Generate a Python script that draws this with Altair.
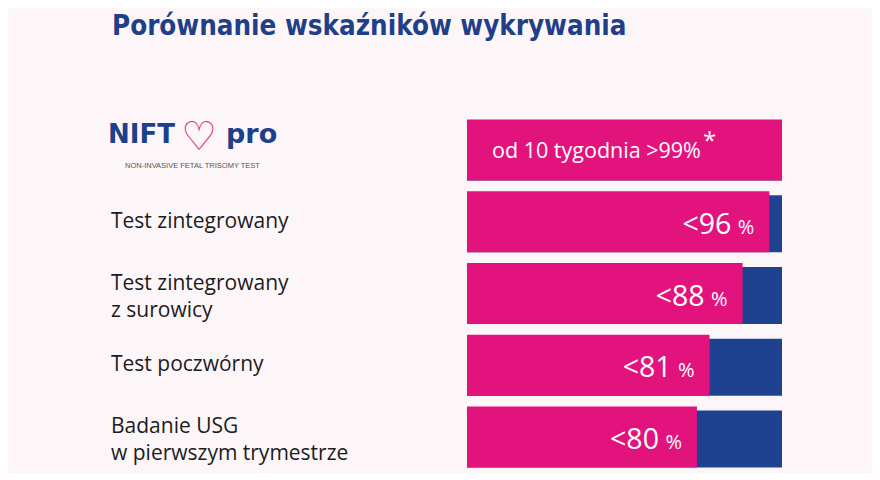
import altair as alt
import pandas as pd

# ---- data ----
rows = ["r0", "r1", "r2", "r3", "r4"]
labels = ["", "Test zintegrowany", "Test zintegrowany\nz surowicy", "Test poczwórny",
          "Badanie USG\nw pierwszym trymestrze"]
bar_values = [100, 96, 87.5, 77, 73]
value_text = ["", "<96", "<88", "<81", "<80"]
pct_text = ["", "%", "%", "%", "%"]
first_row_text = "od 10 tygodnia >99%"
title_text = "Porównanie wskaźników wykrywania"

PINK = "#e3137e"
BLUE = "#1e4290"
BG = "#fdf6f9"

df = pd.DataFrame({"row": rows, "label": labels, "value": bar_values,
                   "vtext": value_text, "ptext": pct_text, "full": [100] * 5})
single = df[(df["label"] != "") & (~df["label"].str.contains("\n"))]
multi = df[df["label"].str.contains("\n")]

y = alt.Y("row:N", scale=alt.Scale(domain=rows, paddingInner=0, paddingOuter=0), axis=None)
x = alt.X("value:Q", scale=alt.Scale(domain=[0, 100]), axis=None)

base = alt.Chart(df)

blue = base.mark_bar(color=BLUE, size=57, yOffset=2).encode(
    y=y, x=alt.X("full:Q", scale=alt.Scale(domain=[0, 100]), axis=None))
pink = base.mark_bar(color=PINK, size=61).encode(y=y, x=x)

num = base.mark_text(align="right", baseline="alphabetic", dx=-38, dy=12,
                     font="Open Sans", fontSize=28.5, color="white").encode(
    y=y, x=x, text="vtext:N")
pct = base.mark_text(align="right", baseline="alphabetic", dx=-15, dy=12,
                     font="Open Sans", fontSize=20, color="white").encode(
    y=y, x=x, text="ptext:N")

left1 = alt.Chart(single).mark_text(
    align="left", baseline="middle", font="Open Sans", fontSize=21, color="#1c1c1c"
).encode(y=y, x=alt.value(-356), text="label:N")
left2 = alt.Chart(multi).mark_text(
    align="left", baseline="alphabetic", dy=-4, font="Open Sans", fontSize=21,
    color="#1c1c1c", lineBreak="\n", lineHeight=27
).encode(y=y, x=alt.value(-356), text="label:N")

first = alt.Chart(pd.DataFrame({"row": ["r0"], "t": [first_row_text]})).mark_text(
    align="left", baseline="alphabetic", dy=8, font="Open Sans", fontSize=21.5, color="white"
).encode(y=y, x=alt.value(25), text="t:N")
star = alt.Chart(pd.DataFrame({"row": ["r0"], "t": ["*"]})).mark_text(
    align="left", baseline="alphabetic", dy=-1, font="Open Sans", fontSize=24, color="white"
).encode(y=y, x=alt.value(236), text="t:N")

title = alt.Chart(pd.DataFrame({"t": [title_text]})).mark_text(
    align="left", baseline="alphabetic", font="DejaVu Sans Condensed, Liberation Sans Narrow",
    fontSize=27.5, fontWeight="bold", color="#1f3f88"
).encode(x=alt.value(-355), y=alt.value(-79), text="t:N")

logo1 = alt.Chart(pd.DataFrame({"t": ["NIFT"]})).mark_text(
    align="left", baseline="alphabetic", font="DejaVu Sans", fontSize=26, fontWeight="bold",
    color="#1e3f8c").encode(x=alt.value(-359), y=alt.value(29), text="t:N")
logo2 = alt.Chart(pd.DataFrame({"t": ["♡"]})).mark_text(
    align="left", baseline="alphabetic", font="DejaVu Sans", fontSize=40,
    color="#e0306a").encode(x=alt.value(-286), y=alt.value(36), text="t:N")
logo3 = alt.Chart(pd.DataFrame({"t": ["pro"]})).mark_text(
    align="left", baseline="alphabetic", font="DejaVu Sans", fontSize=27, fontWeight="bold",
    color="#1e3f8c").encode(x=alt.value(-241), y=alt.value(29), text="t:N")
logo4 = alt.Chart(pd.DataFrame({"t": ["NON-INVASIVE FETAL TRISOMY TEST"]})).mark_text(
    align="left", baseline="alphabetic", font="Liberation Sans", fontSize=7.5,
    color="#555555").encode(x=alt.value(-342), y=alt.value(54), text="t:N")

chart = alt.layer(blue, pink, num, pct, left1, left2, first, star, title,
                  logo1, logo2, logo3, logo4).properties(
    width=315, height=359,
    padding={"left": 459, "top": 106, "right": 90, "bottom": 0},
    autosize=alt.AutoSizeParams(type="none"),
).configure(background=BG).configure_view(stroke=None)

chart.save("out.html", embed_options={"renderer": "svg", "actions": False})
